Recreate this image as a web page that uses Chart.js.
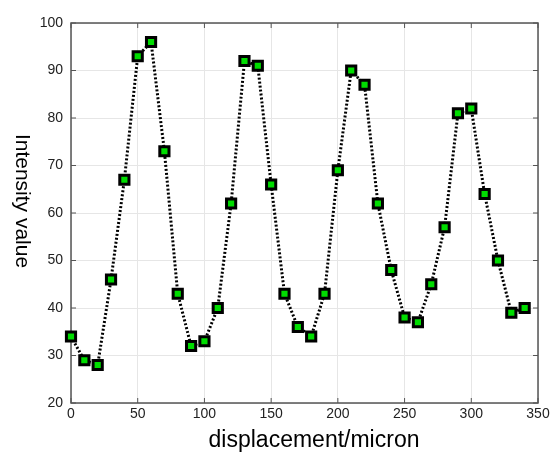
<!DOCTYPE html>
<html>
<head>
<meta charset="utf-8">
<script src="https://cdn.jsdelivr.net/npm/chart.js@4.4.0/dist/chart.umd.min.js"></script>
<style>
  html, body { margin: 0; padding: 0; background: #fff; }
  #wrap { width: 555px; height: 460px; }
</style>
</head>
<body>
<div id="wrap"><canvas id="mycanvas" width="555" height="460"></canvas></div>
<script>
// data
var displacement = [0, 10, 20, 30, 40, 50, 60, 70, 80, 90, 100, 110, 120, 130, 140, 150, 160, 170,
  180, 190, 200, 210, 220, 230, 240, 250, 260, 270, 280, 290, 300, 310, 320, 330, 340];
var intensity = [34, 29, 28, 46, 67, 93, 96, 73, 43, 32, 33, 40, 62, 92, 91, 66, 43, 36,
  34, 43, 69, 90, 87, 62, 48, 38, 37, 45, 57, 81, 82, 64, 50, 39, 40];
var xTicks = [0, 50, 100, 150, 200, 250, 300, 350];
var yTicks = [20, 30, 40, 50, 60, 70, 80, 90, 100];
var xTitle = 'displacement/micron';
var yTitle = 'Intensity value';

Chart.defaults.font.family = "'Liberation Sans', Arial, sans-serif";
Chart.defaults.color = '#222';

var points = [];
for (var i in displacement) {
  points.push({ x: displacement[i], y: intensity[i] });
}

// frame box + inward tick marks + axis titles, matlab style
var framePlugin = {
  id: 'frame',
  beforeDatasetsDraw: function (chart) {
    var c = chart.ctx, a = chart.chartArea;
    var xs = chart.scales.x, ys = chart.scales.y;
    c.save();
    c.strokeStyle = '#555';
    c.lineWidth = 1.5;
    c.strokeRect(a.left, a.top, a.right - a.left, a.bottom - a.top);
    c.lineWidth = 1;
    c.beginPath();
    xTicks.forEach(function (t) {
      var px = xs.getPixelForValue(t);
      c.moveTo(px, a.bottom); c.lineTo(px, a.bottom - 5);
      c.moveTo(px, a.top); c.lineTo(px, a.top + 5);
    });
    yTicks.forEach(function (t) {
      var py = ys.getPixelForValue(t);
      c.moveTo(a.left, py); c.lineTo(a.left + 5, py);
      c.moveTo(a.right, py); c.lineTo(a.right - 5, py);
    });
    c.stroke();

    c.fillStyle = '#000';
    c.textAlign = 'center';
    c.textBaseline = 'middle';
    c.font = "23px 'Liberation Sans', Arial, sans-serif";
    c.fillText(xTitle, 314, 441);
    c.translate(22, 201);
    c.rotate(Math.PI / 2);
    c.font = "21px 'Liberation Sans', Arial, sans-serif";
    c.fillText(yTitle, 0, 0);
    c.restore();
  }
};

var ctx = document.getElementById('mycanvas');
var lineGraph = new Chart(ctx, {
  type: 'line',
  data: {
    datasets: [{
      data: points,
      borderColor: '#000',
      borderWidth: 3,
      borderDash: [2, 2],
      pointStyle: 'rect',
      pointRadius: 6.5,
      pointBorderWidth: 3,
      pointBorderColor: '#000',
      pointBackgroundColor: '#00dd00',
      tension: 0,
      clip: false
    }]
  },
  options: {
    responsive: false,
    animation: false,
    layout: { padding: { top: 23, right: 17, left: 0, bottom: 0 } },
    plugins: {
      legend: { display: false },
      tooltip: { enabled: false }
    },
    scales: {
      x: {
        type: 'linear',
        min: 0,
        max: 350,
        afterBuildTicks: function (s) { s.ticks = xTicks.map(function (v) { return { value: v }; }); },
        ticks: { font: { size: 14 }, color: '#222', padding: 3, maxRotation: 0 },
        grid: { color: '#e6e6e6', drawTicks: false },
        border: { display: false },
        afterFit: function (s) { s.height = 57; }
      },
      y: {
        min: 20,
        max: 100,
        afterBuildTicks: function (s) { s.ticks = yTicks.map(function (v) { return { value: v }; }); },
        ticks: { font: { size: 14 }, color: '#222', padding: 8 },
        grid: { color: '#e6e6e6', drawTicks: false },
        border: { display: false },
        afterFit: function (s) { s.width = 71; }
      }
    }
  },
  plugins: [framePlugin]
});
</script>
</body>
</html>
